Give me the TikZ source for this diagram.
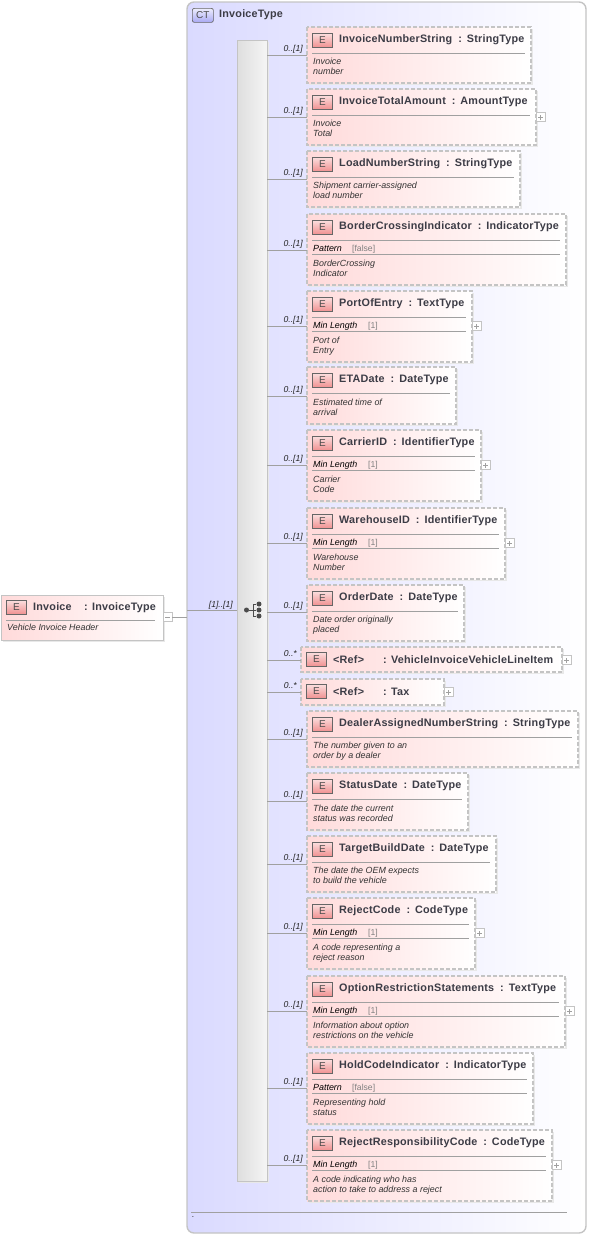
\documentclass[tikz,border=0pt]{standalone}
\usepackage{fontspec}
\setmainfont{Liberation Sans}
\usetikzlibrary{positioning}
\definecolor{FrameGray}{HTML}{C4C4C4}
\definecolor{RuleGray}{HTML}{A0A0A0}
\definecolor{TitleInk}{HTML}{3C3C46}
\definecolor{TypeFill}{HTML}{DADAFF}
\definecolor{ElementPink}{HTML}{FFDADA}
\definecolor{BadgeRed}{HTML}{F09090}
\definecolor{BadgeBlue}{HTML}{A8A8F4}
\definecolor{SpineGray}{HTML}{DEDEDE}
\tikzset{
  figure/.style={x=1pt,y=-1pt,font=\fontsize{8.5}{10}\selectfont,text=black},
  typepanel/.style={draw=FrameGray,line width=1.4pt,rounded corners=7pt,left color=TypeFill,right color=white},
  spinebar/.style={draw=FrameGray,line width=0.9pt,left color=SpineGray,right color=white!96!black},
  elementbox/.style={draw=FrameGray,line width=1.1pt,dash pattern=on 4pt off 2pt,left color=ElementPink,middle color=ElementPink!55,right color=white},
  rootbox/.style={draw=FrameGray,line width=1pt,left color=ElementPink,middle color=ElementPink!55,right color=white},
  badge/.style={draw=black!60,line width=0.7pt,top color=white!70!BadgeRed,bottom color=BadgeRed,minimum width=20pt,minimum height=14pt,inner sep=0pt,text=black!70,font=\fontsize{10}{10}\selectfont},
  typebadge/.style={draw=black!60,line width=0.7pt,rounded corners=2pt,top color=white!80!BadgeBlue,bottom color=BadgeBlue,minimum width=21pt,minimum height=14pt,inner sep=0pt,text=black!70,font=\fontsize{10}{10}\selectfont},
  elemtitle/.style={anchor=base west,inner sep=0pt,text=TitleInk,font=\fontsize{10.8}{12}\selectfont\bfseries\addfontfeature{LetterSpace=2}},
  doctext/.style={anchor=north west,inner sep=0pt,align=left,font=\fontsize{8.9}{10}\selectfont\itshape,text=black!80},
  facetname/.style={anchor=base west,inner sep=0pt,font=\fontsize{8.9}{10}\selectfont\itshape,text=black},
  facetvalue/.style={anchor=base west,inner sep=0pt,font=\fontsize{8.6}{10}\selectfont,text=black!50},
  cardlabel/.style={anchor=base east,inner sep=0pt,font=\fontsize{8.6}{10}\selectfont\itshape,text=black!85},
  wire/.style={draw=RuleGray,line width=0.8pt},
  rulein/.style={draw=RuleGray,line width=0.9pt},
  toggle/.style={draw=FrameGray,line width=0.7pt,fill=white,minimum size=9pt,inner sep=0pt},
  dotnode/.style={circle,fill=black!70,minimum size=5pt,inner sep=0pt},
}
\newcommand{\TypeSep}{\hspace{6pt}:\hspace{5pt}}
% id, left, top, right, bottom, connector y, cardinality, title, documentation
\newcommand{\ElementBox}[9]{%
  \fill[black!9] (#2+2,#3+2) rectangle (#4+2,#5+2);
  \path[elementbox] (#2,#3) rectangle (#4,#5);
  \coordinate (#1) at (#2,#6);
  \coordinate (#1-ne) at (#4,#3);
  \draw[wire] (bar.east |- #1) -- (#1);
  \node[cardlabel] (#1-card) at (#2-4,#6-3.5) {#7};
  \node[badge,anchor=north west] (#1-badge) at (#2+5,#3+6) {E};
  \node[elemtitle] (#1-title) at (#2+32,#3+15) {#8};
  \draw[rulein] (#2+5,#3+26) -- (#4-6,#3+26);
  \node[doctext] (#1-doc) at (#2+6,#5-25.5) {#9};
}
% one facet row in a box: id, label, value, offset of the value
\newcommand{\FacetRow}[4]{%
  \path (#1-badge.north west) ++(0,31) coordinate (#1-facet);
  \node[facetname] (#1-fname) at ([xshift=1pt]#1-facet) {#2};
  \node[facetvalue] (#1-fval) at ([xshift=#4]#1-facet) {[#3]};
  \draw[rulein] ([yshift=-3pt]#1-facet) -- ([shift={(-6pt,-3pt)}]#1-facet -| #1-ne);
}
\newcommand{\PlusToggle}[2]{%
  \node[toggle] (#1-plus) at ([xshift=4.5pt]#1-ne |- 0,#2) {};
  \draw[RuleGray,line width=0.6pt] ([xshift=-2.5pt]#1-plus.center) -- ([xshift=2.5pt]#1-plus.center)
    ([yshift=-2.5pt]#1-plus.center) -- ([yshift=2.5pt]#1-plus.center);
}
\begin{document}
\begin{tikzpicture}[figure]
  \useasboundingbox (0,0) rectangle (590,1235);

  \path[typepanel] (187,2) rectangle (586,1233);
  \node[typebadge,anchor=north west] (ct) at (192,8) {CT};
  \node[elemtitle] (ctname) at (219,17) {InvoiceType};
  \draw[rulein] (191,1212) -- (567,1212);
  \node[doctext] (ctdot) at (192,1216) {.};

  \fill[black!9] (239,42) rectangle (269,1183);
  \path[spinebar] (237,40) rectangle (267,1181);
  \node[inner sep=0pt,minimum width=30pt,minimum height=1141pt,anchor=north west] (bar) at (237,40) {};

  % the root element
  \fill[black!9] (3,597) rectangle (165,642);
  \path[rootbox] (1,595) rectangle (163,640);
  \node[badge,anchor=north west] (rootbadge) at (6,600) {E};
  \node[elemtitle] (rootname) at (33,610) {Invoice};
  \node[elemtitle] (roottype) at (84,610) {: InvoiceType};
  \draw[rulein] (6,620) -- (155,620);
  \node[doctext] (rootdoc) at (7,623.5) {Vehicle Invoice Header};
  \node[toggle] (rootminus) at (167.5,617) {};
  \draw[RuleGray,line width=0.6pt] (165,617) -- (170,617);
  \coordinate (panelin) at (187,617);
  \draw[wire] (rootminus) -- (panelin);
  \coordinate (seqin) at (187,610);
  \draw[wire] (seqin) -- (bar.west |- seqin);
  \node[cardlabel] (rootcard) at (233,607.5) {[1]..[1]};

  % compositor symbol
  \node[dotnode] (seqhub) at (246.5,610) {};
  \node[dotnode] (seqa) at (259,604) {};
  \node[dotnode] (seqb) at (259,610) {};
  \node[dotnode] (seqc) at (259,616) {};
  \draw[black!70,line width=0.8pt] (seqhub) -- (seqb) (253,610) |- (seqa) (253,610) |- (seqc);

  \ElementBox{invnum}{307}{27}{531}{83}{55}{0..[1]}{InvoiceNumberString\TypeSep StringType}{Invoice\\number}
  \ElementBox{invtotal}{307}{89}{536}{145}{117}{0..[1]}{InvoiceTotalAmount\TypeSep AmountType}{Invoice\\Total}
  \PlusToggle{invtotal}{117}
  \ElementBox{loadnum}{307}{151}{520}{207}{179}{0..[1]}{LoadNumberString\TypeSep StringType}{Shipment carrier-assigned\\load number}
  \ElementBox{border}{307}{214}{566}{285}{250}{0..[1]}{BorderCrossingIndicator\TypeSep IndicatorType}{BorderCrossing\\Indicator}
  \FacetRow{border}{Pattern}{false}{40pt}
  \ElementBox{port}{307}{291}{472}{362}{326}{0..[1]}{PortOfEntry\TypeSep TextType}{Port of\\Entry}
  \FacetRow{port}{Min Length}{1}{56pt}
  \PlusToggle{port}{326}
  \ElementBox{eta}{307}{367}{456}{424}{396}{0..[1]}{ETADate\TypeSep DateType}{Estimated time of\\arrival}
  \ElementBox{carrier}{307}{430}{481}{501}{465}{0..[1]}{CarrierID\TypeSep IdentifierType}{Carrier\\Code}
  \FacetRow{carrier}{Min Length}{1}{56pt}
  \PlusToggle{carrier}{465}
  \ElementBox{warehouse}{307}{508}{505}{579}{543}{0..[1]}{WarehouseID\TypeSep IdentifierType}{Warehouse\\Number}
  \FacetRow{warehouse}{Min Length}{1}{56pt}
  \PlusToggle{warehouse}{543}
  \ElementBox{order}{307}{585}{464}{641}{612}{0..[1]}{OrderDate\TypeSep DateType}{Date order originally\\placed}

  % the two references have no documentation
  \fill[black!9] (303,649) rectangle (564,674);
  \path[elementbox] (301,647) rectangle (562,672);
  \coordinate (lineitem) at (301,660);
  \coordinate (lineitem-ne) at (562,647);
  \draw[wire] (bar.east |- lineitem) -- (lineitem);
  \node[cardlabel] (lineitem-card) at (297,656.5) {0..*};
  \node[badge,anchor=north west] (lineitem-badge) at (306,652) {E};
  \node[elemtitle] (lineitem-ref) at (333,663) {<Ref>};
  \node[elemtitle] (lineitem-title) at (383,663) {: VehicleInvoiceVehicleLineItem};
  \PlusToggle{lineitem}{660}
  \fill[black!9] (303,681) rectangle (446,707);
  \path[elementbox] (301,679) rectangle (444,705);
  \coordinate (tax) at (301,692);
  \coordinate (tax-ne) at (444,679);
  \draw[wire] (bar.east |- tax) -- (tax);
  \node[cardlabel] (tax-card) at (297,688.5) {0..*};
  \node[badge,anchor=north west] (tax-badge) at (306,684) {E};
  \node[elemtitle] (tax-ref) at (333,695) {<Ref>};
  \node[elemtitle] (tax-title) at (383,695) {: Tax};
  \PlusToggle{tax}{692}

  \ElementBox{dealer}{307}{711}{578}{767}{739}{0..[1]}{DealerAssignedNumberString\TypeSep StringType}{The number given to an\\order by a dealer}
  \ElementBox{status}{307}{773}{468}{830}{801}{0..[1]}{StatusDate\TypeSep DateType}{The date the current\\status was recorded}
  \ElementBox{target}{307}{836}{496}{892}{864}{0..[1]}{TargetBuildDate\TypeSep DateType}{The date the OEM expects\\to build the vehicle}
  \ElementBox{reject}{307}{898}{475}{969}{933}{0..[1]}{RejectCode\TypeSep CodeType}{A code representing a\\reject reason}
  \FacetRow{reject}{Min Length}{1}{56pt}
  \PlusToggle{reject}{933}
  \ElementBox{option}{307}{976}{565}{1047}{1011}{0..[1]}{OptionRestrictionStatements\TypeSep TextType}{Information about option\\restrictions on the vehicle}
  \FacetRow{option}{Min Length}{1}{56pt}
  \PlusToggle{option}{1011}
  \ElementBox{hold}{307}{1053}{533}{1124}{1088}{0..[1]}{HoldCodeIndicator\TypeSep IndicatorType}{Representing hold\\status}
  \FacetRow{hold}{Pattern}{false}{40pt}
  \ElementBox{respons}{307}{1130}{552}{1201}{1165}{0..[1]}{RejectResponsibilityCode\TypeSep CodeType}{A code indicating who has\\action to take to address a reject}
  \FacetRow{respons}{Min Length}{1}{56pt}
  \PlusToggle{respons}{1165}
\end{tikzpicture}
\end{document}
